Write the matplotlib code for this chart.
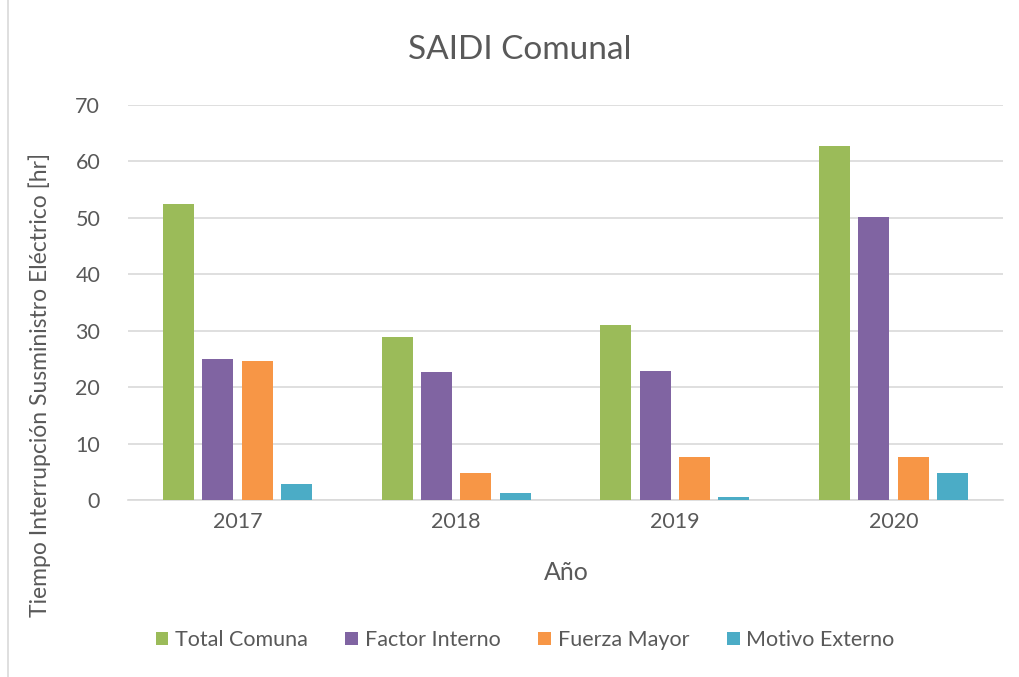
import matplotlib
matplotlib.use("Agg")
from matplotlib import pyplot as plt
from matplotlib.patches import Rectangle
import numpy as np

years = ["2017", "2018", "2019", "2020"]
series_names = ["Total Comuna", "Factor Interno", "Fuerza Mayor", "Motivo Externo"]
total_comuna = [52.4, 28.8, 31.1, 62.7]
factor_interno = [25.0, 22.6, 22.8, 50.2]
fuerza_mayor = [24.6, 4.8, 7.7, 7.7]
motivo_externo = [2.8, 1.3, 0.5, 4.8]

colors = ["#9BBB59", "#8064A2", "#F79646", "#4BACC6"]
txt = "#595959"

plt.rcParams["font.family"] = ["Lato", "DejaVu Sans"]

fig = plt.figure(figsize=(10.2, 6.77), dpi=100)
ax = fig.add_axes([128 / 1020, 1 - 500 / 677, 875 / 1020, 395 / 677])

# chart border like excel
fig.patches.append(Rectangle((8 / 1020, -0.01), 1.2, 1.2, transform=fig.transFigure,
                             fill=False, edgecolor="#D9D9D9", linewidth=1.2))

x = np.arange(len(years))
width = 0.142
step = 0.18
all_series = [total_comuna, factor_interno, fuerza_mayor, motivo_externo]
for i, vals in enumerate(all_series):
    ax.bar(x + (i - 1.5) * step, vals, width, color=colors[i], label=series_names[i], zorder=3)

ax.set_xlim(-0.5, 3.5)
ax.set_ylim(0, 70)
ax.set_yticks(range(0, 71, 10))
ax.set_xticks(x)
ax.set_xticklabels(years)
ax.grid(axis="y", color="#D9D9D9", linewidth=1.2, zorder=0)
for s in ["top", "right", "left"]:
    ax.spines[s].set_visible(False)
ax.spines["bottom"].set_color("#D9D9D9")
ax.spines["bottom"].set_linewidth(1.2)
ax.tick_params(axis="both", length=0, labelsize=15.5, colors=txt)
ax.tick_params(axis="y", pad=20)
ax.tick_params(axis="x", pad=9)

fig.text(520 / 1020, 1 - 50 / 677, "SAIDI Comunal", ha="center", va="center", fontsize=24, color=txt)
fig.text(566 / 1020, 1 - 572 / 677, "Año", ha="center", va="center", fontsize=18, color=txt)
fig.text(40 / 1020, 1 - 385 / 677, "Tiempo Interrupción Susministro Eléctrico [hr]", ha="center",
         va="center", rotation=90, fontsize=16.5, color=txt)

fig.legend(loc="center", bbox_to_anchor=(525 / 1020, 1 - 640 / 677), ncol=4, frameon=False,
           fontsize=15.5, labelcolor=txt, handlelength=0.6, handleheight=0.6, handletextpad=0.3,
           columnspacing=1.75)

fig.savefig("out.png", dpi=100)
